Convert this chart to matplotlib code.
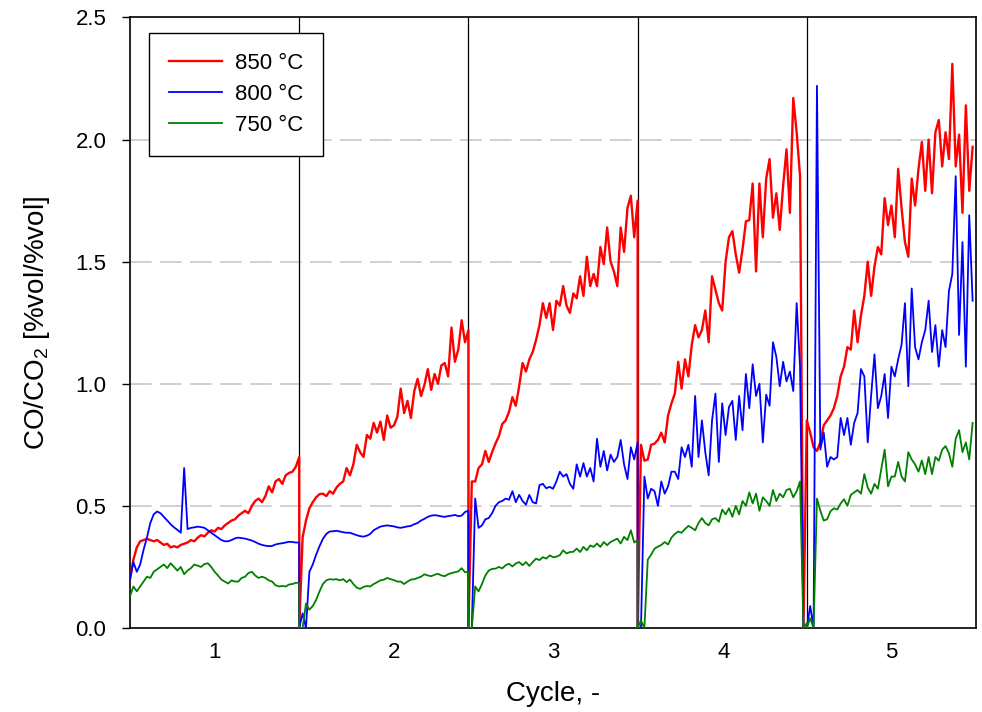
import numpy as np
import matplotlib
matplotlib.use("Agg")
import matplotlib.pyplot as plt

plt.rcParams['font.family'] = ['Liberation Sans', 'DejaVu Sans']
plt.rcParams['mathtext.fontset'] = 'custom'
plt.rcParams['mathtext.rm'] = 'Liberation Sans'

# CO/CO2 ratio per cycle, sampled every 0.02 cycle
co_850 = [
    [0.20, 0.28, 0.33, 0.355, 0.36, 0.365, 0.36, 0.355, 0.36, 0.35,
     0.34, 0.345, 0.33, 0.335, 0.33, 0.34, 0.345, 0.35, 0.36, 0.355,
     0.37, 0.38, 0.375, 0.39, 0.40, 0.395, 0.41, 0.405, 0.42, 0.43,
     0.44, 0.445, 0.46, 0.47, 0.48, 0.47, 0.50, 0.52, 0.53, 0.515,
     0.54, 0.58, 0.555, 0.60, 0.61, 0.59, 0.625, 0.635, 0.64, 0.66, 0.70],
    [0.0, 0.37, 0.44, 0.49, 0.515, 0.535, 0.548, 0.55, 0.54, 0.56,
     0.55, 0.575, 0.59, 0.60, 0.655, 0.625, 0.67, 0.75, 0.72, 0.70,
     0.79, 0.775, 0.84, 0.80, 0.845, 0.77, 0.87, 0.82, 0.83, 0.865,
     0.98, 0.88, 0.93, 0.86, 0.97, 1.02, 0.95, 0.995, 1.06, 0.975,
     1.04, 1.0, 1.075, 1.085, 1.03, 1.23, 1.09, 1.14, 1.26, 1.17, 1.22],
    [0.0, 0.60, 0.60, 0.655, 0.67, 0.725, 0.68, 0.72, 0.755, 0.785,
     0.835, 0.85, 0.885, 0.945, 0.91, 0.99, 1.085, 1.05, 1.10, 1.13,
     1.18, 1.24, 1.33, 1.27, 1.33, 1.22, 1.34, 1.32, 1.40, 1.32,
     1.29, 1.37, 1.35, 1.44, 1.36, 1.52, 1.40, 1.45, 1.40, 1.56,
     1.49, 1.64, 1.50, 1.46, 1.40, 1.64, 1.54, 1.72, 1.77, 1.60, 1.75],
    [0.0, 0.75, 0.685, 0.69, 0.75, 0.755, 0.77, 0.80, 0.76, 0.87,
     0.92, 0.96, 1.09, 0.98, 1.10, 1.03, 1.16, 1.24, 1.19, 1.22,
     1.30, 1.17, 1.44, 1.385, 1.33, 1.30, 1.50, 1.60, 1.625, 1.53,
     1.455, 1.55, 1.665, 1.67, 1.82, 1.46, 1.82, 1.60, 1.84, 1.92,
     1.68, 1.78, 1.63, 1.81, 1.96, 1.70, 2.17, 2.03, 1.85, 0.0, 0.83],
    [0.85, 0.80, 0.74, 0.725, 0.76, 0.83, 0.85, 0.87, 0.90, 0.95,
     1.03, 1.07, 1.15, 1.14, 1.30, 1.17, 1.28, 1.36, 1.50, 1.36,
     1.48, 1.56, 1.53, 1.76, 1.65, 1.73, 1.60, 1.88, 1.72, 1.58,
     1.52, 1.84, 1.73, 1.88, 1.99, 1.79, 2.00, 1.78, 2.03, 2.08,
     1.89, 2.03, 1.92, 2.31, 1.89, 2.02, 1.70, 2.14, 1.79, 1.97],
]

co_800 = [
    [0.20, 0.27, 0.23, 0.26, 0.32, 0.37, 0.43, 0.465, 0.477, 0.47,
     0.455, 0.44, 0.425, 0.412, 0.402, 0.39, 0.655, 0.405, 0.41, 0.412,
     0.415, 0.413, 0.41, 0.40, 0.39, 0.38, 0.37, 0.36, 0.355, 0.355,
     0.36, 0.367, 0.37, 0.368, 0.366, 0.362, 0.358, 0.352, 0.345, 0.34,
     0.337, 0.335, 0.336, 0.342, 0.345, 0.347, 0.35, 0.353, 0.352, 0.35, 0.35],
    [0.0, 0.06, 0.0, 0.23, 0.26, 0.30, 0.335, 0.365, 0.385, 0.395,
     0.396, 0.398, 0.395, 0.392, 0.39, 0.39, 0.385, 0.38, 0.376, 0.374,
     0.378, 0.385, 0.40, 0.408, 0.415, 0.418, 0.42, 0.418, 0.416, 0.412,
     0.41, 0.413, 0.416, 0.418, 0.425, 0.43, 0.44, 0.447, 0.455, 0.46,
     0.462, 0.46, 0.457, 0.455, 0.458, 0.46, 0.463, 0.458, 0.46, 0.475, 0.48],
    [0.0, 0.0, 0.53, 0.41, 0.42, 0.445, 0.45, 0.47, 0.50, 0.515,
     0.52, 0.53, 0.525, 0.56, 0.515, 0.545, 0.52, 0.505, 0.545, 0.515,
     0.51, 0.585, 0.59, 0.572, 0.578, 0.57, 0.60, 0.64, 0.62, 0.63,
     0.59, 0.57, 0.67, 0.62, 0.675, 0.62, 0.655, 0.60, 0.775, 0.66,
     0.725, 0.645, 0.71, 0.68, 0.70, 0.77, 0.67, 0.61, 0.74, 0.69, 0.76],
    [0.0, 0.0, 0.62, 0.53, 0.57, 0.56, 0.50, 0.60, 0.55, 0.58,
     0.64, 0.64, 0.61, 0.74, 0.70, 0.75, 0.66, 0.95, 0.70, 0.85,
     0.72, 0.625, 0.85, 0.96, 0.68, 0.92, 0.79, 0.905, 0.93, 0.77,
     0.95, 0.81, 1.04, 0.90, 1.08, 0.95, 1.00, 0.76, 0.955, 0.91,
     1.17, 1.11, 0.99, 1.09, 1.01, 1.05, 0.97, 1.33, 1.07, 0.0, 0.0],
    [0.0, 0.09, 0.0, 2.22, 0.73, 0.80, 0.66, 0.70, 0.69, 0.70,
     0.86, 0.79, 0.86, 0.75, 0.84, 0.88, 1.06, 1.03, 0.76, 0.95,
     1.12, 0.90, 0.95, 1.04, 0.86, 1.07, 1.03, 1.10, 1.16, 1.33,
     0.99, 1.39, 1.15, 1.10, 1.17, 1.22, 1.34, 1.13, 1.24, 1.07,
     1.22, 1.15, 1.38, 1.45, 1.85, 1.20, 1.58, 1.07, 1.69, 1.34],
]

co_750 = [
    [0.13, 0.17, 0.15, 0.17, 0.19, 0.21, 0.205, 0.23, 0.24, 0.25,
     0.26, 0.245, 0.265, 0.25, 0.235, 0.25, 0.22, 0.235, 0.245, 0.26,
     0.255, 0.25, 0.262, 0.265, 0.25, 0.23, 0.215, 0.198, 0.19, 0.182,
     0.195, 0.19, 0.19, 0.205, 0.21, 0.225, 0.23, 0.215, 0.205, 0.21,
     0.205, 0.195, 0.19, 0.175, 0.17, 0.172, 0.17, 0.178, 0.18, 0.185, 0.185],
    [0.0, 0.0, 0.10, 0.075, 0.09, 0.115, 0.15, 0.18, 0.195, 0.2,
     0.198, 0.2, 0.195, 0.2, 0.188, 0.198, 0.18, 0.165, 0.16, 0.168,
     0.172, 0.17, 0.18, 0.187, 0.195, 0.198, 0.205, 0.2, 0.196, 0.19,
     0.19, 0.18, 0.19, 0.198, 0.2, 0.205, 0.21, 0.22, 0.215, 0.212,
     0.218, 0.222, 0.215, 0.212, 0.22, 0.225, 0.228, 0.232, 0.245, 0.228, 0.23],
    [0.0, 0.0, 0.17, 0.15, 0.18, 0.215, 0.235, 0.242, 0.243, 0.25,
     0.244, 0.257, 0.263, 0.252, 0.264, 0.27, 0.257, 0.27, 0.254, 0.27,
     0.284, 0.278, 0.29, 0.284, 0.297, 0.29, 0.292, 0.298, 0.318, 0.305,
     0.311, 0.312, 0.325, 0.311, 0.332, 0.318, 0.338, 0.332, 0.346, 0.332,
     0.352, 0.339, 0.352, 0.359, 0.366, 0.346, 0.373, 0.36, 0.40, 0.35, 0.36],
    [0.0, 0.03, 0.0, 0.28, 0.30, 0.325, 0.333, 0.34, 0.352, 0.342,
     0.37, 0.385, 0.395, 0.39, 0.405, 0.418, 0.41, 0.40, 0.43, 0.45,
     0.43, 0.42, 0.445, 0.45, 0.435, 0.485, 0.465, 0.49, 0.455, 0.50,
     0.465, 0.52, 0.50, 0.555, 0.51, 0.55, 0.48, 0.535, 0.52, 0.50,
     0.565, 0.52, 0.55, 0.535, 0.565, 0.57, 0.535, 0.56, 0.60, 0.0, 0.02],
    [0.0, 0.04, 0.0, 0.53, 0.48, 0.44, 0.445, 0.478, 0.49, 0.485,
     0.51, 0.527, 0.50, 0.545, 0.555, 0.565, 0.55, 0.63, 0.575, 0.55,
     0.59, 0.57, 0.65, 0.73, 0.58, 0.62, 0.62, 0.68, 0.62, 0.60,
     0.72, 0.69, 0.67, 0.64, 0.686, 0.63, 0.70, 0.63, 0.70, 0.685,
     0.73, 0.745, 0.715, 0.66, 0.775, 0.81, 0.72, 0.76, 0.69, 0.84],
]

cycles = [1, 2, 3, 4, 5]
cycle_label_pos = [1.0, 2.06, 3.0, 4.01, 5.0]
cycle_bounds = [1.5, 2.5, 3.5, 4.5]
step = 0.02


def flatten(series):
    # each cycle starts at c - 0.5, samples every `step`
    xs, ys = [], []
    for c, vals in zip(cycles, series):
        xs.append(c - 0.5 + step * np.arange(len(vals)))
        ys.append(np.array(vals))
    return np.concatenate(xs), np.concatenate(ys)


fig = plt.figure(figsize=(9.82, 7.12), dpi=100)
ax = fig.add_axes([0.1324, 0.118, 0.8615, 0.8575])

for yg in [0.5, 1.0, 1.5, 2.0]:
    ax.axhline(yg, color='#c8c8c8', lw=1.2, dashes=(13, 5), zorder=0)
for xb in cycle_bounds:
    ax.axvline(xb, color='black', lw=0.9, zorder=1)

x, y = flatten(co_850)
ax.plot(x, y, color='#ff0000', lw=1.7, label='850 °C', zorder=3)
x, y = flatten(co_800)
ax.plot(x, y, color='#0000ff', lw=1.3, label='800 °C', zorder=3)
x, y = flatten(co_750)
ax.plot(x, y, color='#008000', lw=1.3, label='750 °C', zorder=3)

ax.set_xlim(0.5, 5.5)
ax.set_ylim(0, 2.5)
ax.set_yticks([0.0, 0.5, 1.0, 1.5, 2.0, 2.5])
ax.set_yticklabels(['0.0', '0.5', '1.0', '1.5', '2.0', '2.5'])
ax.set_xticks(cycle_label_pos)
ax.set_xticklabels([str(c) for c in cycles])
ax.tick_params(axis='y', labelsize=16, length=6, width=1, pad=11)
ax.tick_params(axis='x', labelsize=16, length=0, pad=10)
for s in ax.spines.values():
    s.set_linewidth(1.2)

ax.set_xlabel('Cycle, -', fontsize=20, labelpad=13)
ax.set_ylabel('CO/CO$_\\mathregular{2}$ [%vol/%vol]', fontsize=20, labelpad=17)

leg = ax.legend(loc='upper left', bbox_to_anchor=(0.0225, 0.975), borderaxespad=0,
                fontsize=16, frameon=True, fancybox=False, edgecolor='black',
                framealpha=1, handlelength=2.4, labelspacing=0.45, borderpad=0.9,
                handletextpad=0.55)
leg.get_frame().set_linewidth(1.0)

fig.savefig('out.png', dpi=100)
